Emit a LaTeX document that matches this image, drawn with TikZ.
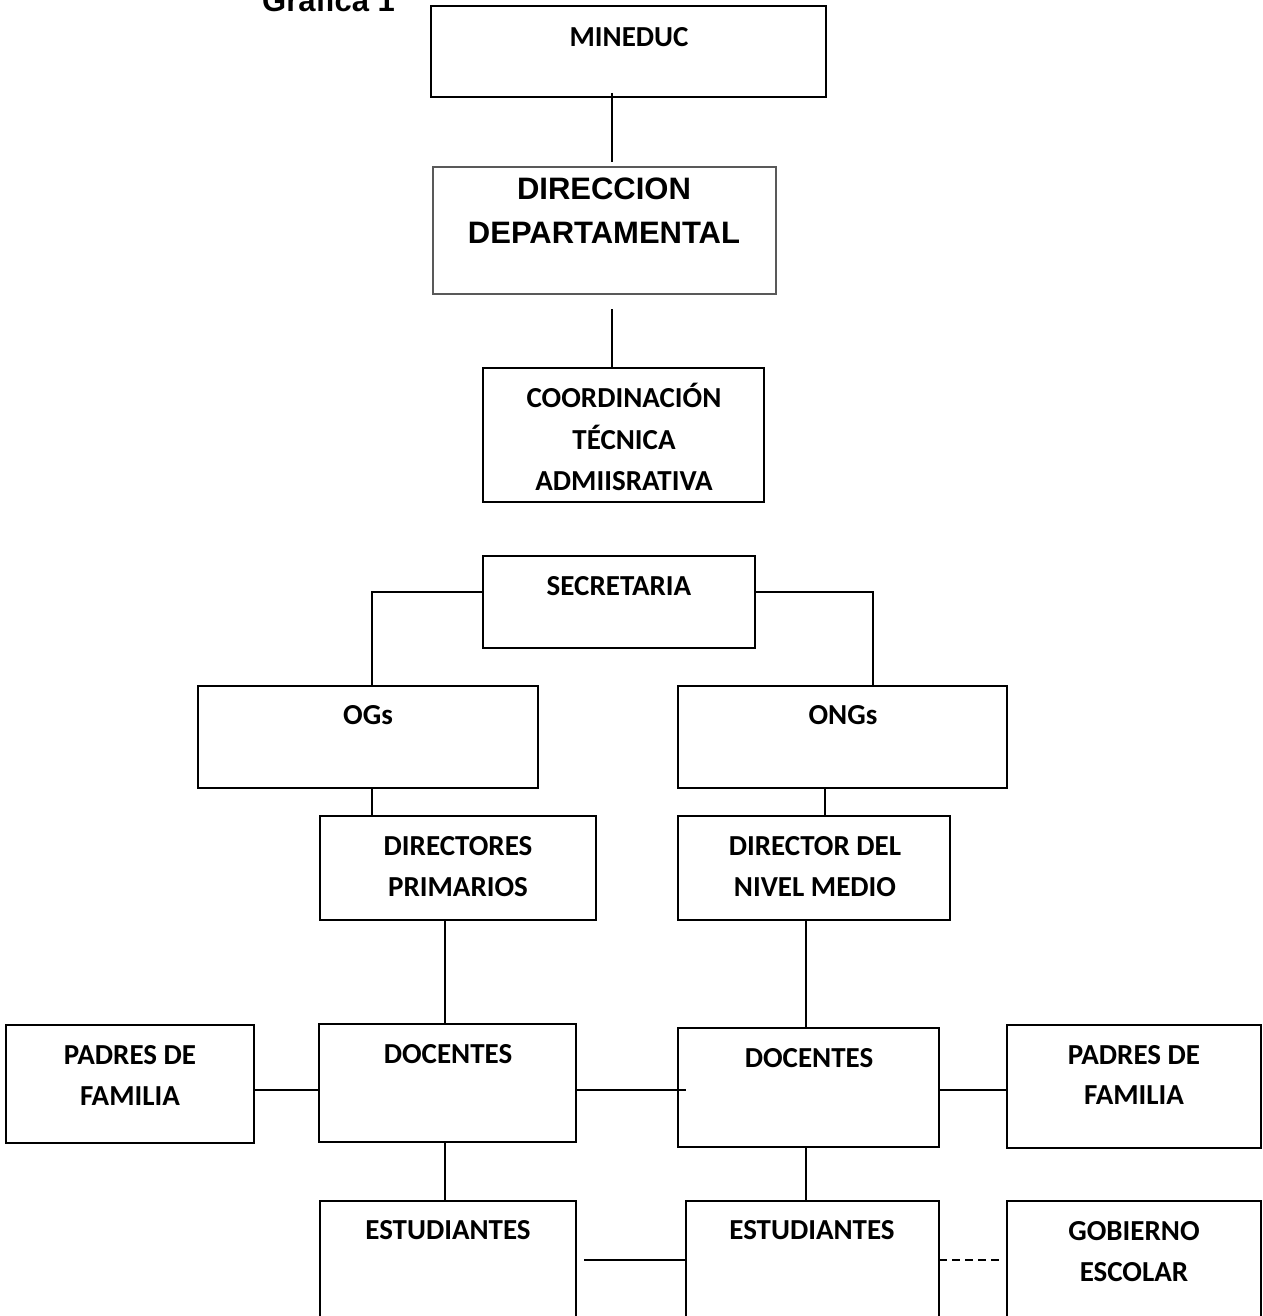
\documentclass[tikz,border=0pt]{standalone}
\usepackage{fontspec}
\newfontfamily\calfam{Carlito}
\newfontfamily\arifam{Liberation Sans}
\newcommand{\bx}[6][]{\node[boxst,#1,minimum width={(#5-#3)*1pt},minimum height={(#6-#4)*1pt}] (#2) at ({(#3+#5)/2},{(#4+#6)/2}) {};}
\newcommand{\lbl}[5][]{\node[lab,#1] (#2) at (#3,#4) {#5};}
\begin{document}
\begin{tikzpicture}[x=1pt,y=-1pt,
  boxst/.style={draw=black,line width=2pt,inner sep=0pt,outer sep=0pt,rectangle},
  thinbox/.style={draw=black!65,line width=1.3pt},
  lab/.style={anchor=base,inner sep=0pt,font=\calfam\bfseries\fontsize{29}{35}\selectfont},
  arilab/.style={font=\arifam\bfseries\fontsize{31}{37}\selectfont},
  conn/.style={draw=black,line width=2pt},
  dconn/.style={conn,dash pattern=on 8pt off 5pt}]
\useasboundingbox (0,0) rectangle (1262,1316);
\clip (0,0) rectangle (1262,1316);
% boxes
\bx{mined}{431}{6}{826}{97}
\bx[thinbox]{dir}{433}{167}{776}{294}
\bx{coord}{483}{368}{764}{502}
\bx{secr}{483}{556}{755}{648}
\bx{ogs}{198}{686}{538}{788}
\bx{ongs}{678}{686}{1007}{788}
\bx{dirp}{320}{816}{596}{920}
\bx{dirm}{678}{816}{950}{920}
\bx{padA}{6}{1025}{254}{1143}
\bx{docA}{319}{1024}{576}{1142}
\bx{docB}{678}{1028}{939}{1147}
\bx{padB}{1007}{1025}{1261}{1148}
\bx{estA}{320}{1201}{576}{1335}
\bx{estB}{686}{1201}{939}{1335}
\bx{gob}{1007}{1201}{1261}{1335}
% texts
\lbl[arilab,anchor=base west]{tgraf}{262}{12}{Grafica 1}
\lbl{tmin}{629}{47}{MINEDUC}
\lbl[arilab]{tdir1}{604}{200}{DIRECCION}
\lbl[arilab]{tdir2}{604}{243}{DEPARTAMENTAL}
\lbl{tco1}{624}{407}{COORDINACIÓN}
\lbl{tco2}{624}{449}{TÉCNICA}
\lbl{tco3}{624}{490}{ADMIISRATIVA}
\lbl{tsec}{619}{595}{SECRETARIA}
\lbl{togs}{368}{724}{OGs}
\lbl{tongs}{843}{724}{ONGs}
\lbl{tdp1}{458}{855}{DIRECTORES}
\lbl{tdp2}{458}{896}{PRIMARIOS}
\lbl{tdm1}{815}{855}{DIRECTOR DEL}
\lbl{tdm2}{815}{896}{NIVEL MEDIO}
\lbl{tpa1}{130}{1064}{PADRES DE}
\lbl{tpa2}{130}{1105}{FAMILIA}
\lbl{tdoA}{448}{1063}{DOCENTES}
\lbl{tdoB}{809}{1067}{DOCENTES}
\lbl{tpb1}{1134}{1064}{PADRES DE}
\lbl{tpb2}{1134}{1104}{FAMILIA}
\lbl{teA}{448}{1239}{ESTUDIANTES}
\lbl{teB}{812}{1239}{ESTUDIANTES}
\lbl{tgo1}{1134}{1240}{GOBIERNO}
\lbl{tgo2}{1134}{1281}{ESCOLAR}
% reference coordinates for connector positions
\coordinate (xa) at (612,0);
\coordinate (xog) at (372,0);
\coordinate (xong) at (873,0);
\coordinate (xongd) at (825,0);
\coordinate (xl) at (445,0);
\coordinate (xr) at (806,0);
\coordinate (ys) at (0,592);
\coordinate (yd) at (0,1090);
\coordinate (ye) at (0,1260);
% connectors
\draw[conn,shorten <=-4pt,shorten >=5pt] (mined.south -| xa) -- (dir.north -| xa);
\draw[conn,shorten <=15pt] (dir.south -| xa) -- (coord.north -| xa);
\draw[conn] (secr.west |- ys) -| (ogs.north -| xog);
\draw[conn] (secr.east |- ys) -| (ongs.north -| xong);
\draw[conn] (ogs.south -| xog) -- (dirp.north -| xog);
\draw[conn] (ongs.south -| xongd) -- (dirm.north -| xongd);
\draw[conn] (dirp.south -| xl) -- (docA.north -| xl);
\draw[conn] (dirm.south -| xr) -- (docB.north -| xr);
\draw[conn] (padA.east |- yd) -- (docA.west |- yd);
\draw[conn,shorten >=-8pt] (docA.east |- yd) -- (docB.west |- yd);
\draw[conn] (docB.east |- yd) -- (padB.west |- yd);
\draw[conn] (docA.south -| xl) -- (estA.north -| xl);
\draw[conn] (docB.south -| xr) -- (estB.north -| xr);
\draw[conn,shorten <=8pt] (estA.east |- ye) -- (estB.west |- ye);
\draw[dconn,shorten >=4pt] (estB.east |- ye) -- (gob.west |- ye);
\end{tikzpicture}
\end{document}
